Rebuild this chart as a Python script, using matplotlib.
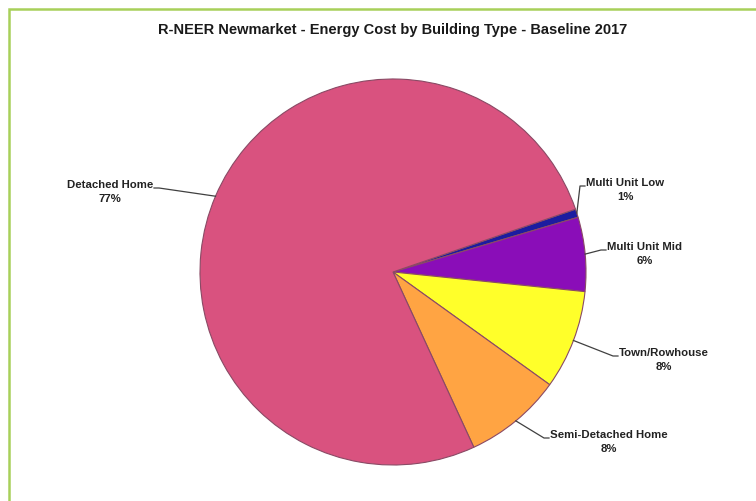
import numpy as np
import matplotlib
matplotlib.use("Agg")
from matplotlib import pyplot as plt
from matplotlib.patches import Rectangle

# Data (clockwise from the right side of the pie)
labels = ["Multi Unit Low", "Multi Unit Mid", "Town/Rowhouse", "Semi-Detached Home", "Detached Home"]
shares = [0.7, 6.2, 8.3, 8.2, 76.6]
colors = ["#1c1ca0", "#8a0db8", "#ffff2a", "#ffa443", "#d9527f"]

# Layout (image pixels)
W, H = 756, 501
CENTER = (393, 272)
RADIUS = 193
START_ANGLE = 19
# label anchor (x, y of first text line) and alignment per slice
label_pos = [(586, 184, "left"), (607, 248, "left"), (619, 354, "left"),
             (550, 436, "left"), (153, 186, "right")]

plt.rcParams["font.family"] = ["Liberation Sans", "DejaVu Sans"]

fig = plt.figure(figsize=(W / 100, H / 100), dpi=100)
fig.patch.set_facecolor("white")
ax = fig.add_axes([0, 0, 1, 1])

def px(x, y):
    return x, H - y

wedges, _ = ax.pie(shares, colors=colors, startangle=START_ANGLE, counterclock=False,
                   center=px(*CENTER), radius=RADIUS,
                   wedgeprops=dict(edgecolor="#8a4a65", linewidth=0.8))

ax.set_xlim(0, W)
ax.set_ylim(0, H)
ax.set_aspect("equal")
ax.axis("off")

cx, cy = px(*CENTER)
for w, lab, val, (lx, ly, ha) in zip(wedges, labels, shares, label_pos):
    ang = np.deg2rad((w.theta1 + w.theta2) / 2)
    ex, ey = cx + RADIUS * np.cos(ang), cy + RADIUS * np.sin(ang)
    tx, ty = px(lx, ly + 2)
    if ha == "left":
        ax.plot([ex, tx - 6, tx - 1], [ey, ty, ty], color="#404040", lw=0.9)
    else:
        ax.plot([ex, tx + 6, tx + 1], [ey, ty, ty], color="#404040", lw=0.9)
    ax.text(tx, H - (ly - 6), f"{lab}\n{round(val)}%", ha=ha, va="top",
            multialignment="center", fontsize=8.2, fontweight="bold",
            color="#222222", linespacing=1.45)

fig.text(393 / W, 1 - 30 / H, "R-NEER Newmarket - Energy Cost by Building Type - Baseline 2017",
         ha="center", va="center", fontsize=10.5, fontweight="bold", color="#1a1a1a")

# green chart border (right/bottom sides fall outside the picture)
fig.patches.append(Rectangle((9 / W, -0.02), 1.05, 1 - 9 / H + 0.02, transform=fig.transFigure,
                             fill=False, edgecolor="#a8d05a", linewidth=1.8))

fig.savefig("out.png", dpi=100)
